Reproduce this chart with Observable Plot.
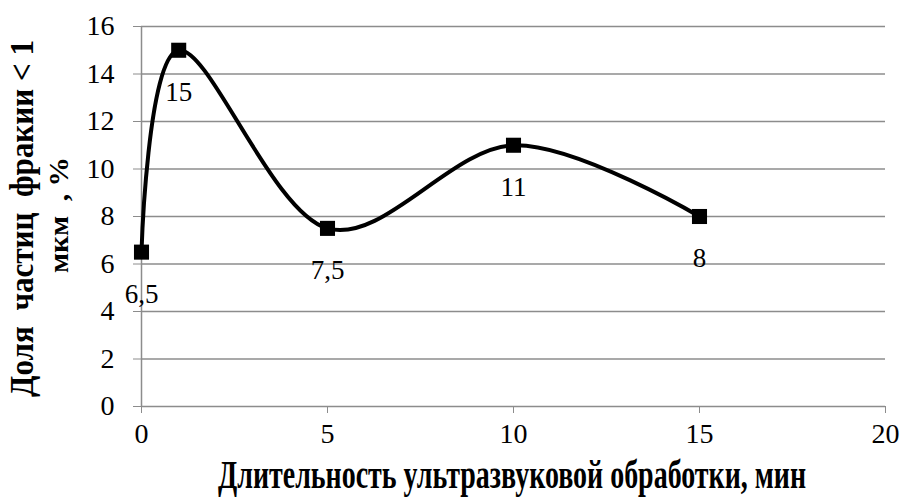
<!DOCTYPE html>
<html><head><meta charset="utf-8">
<script src="https://cdn.jsdelivr.net/npm/d3@7"></script>
<script src="https://cdn.jsdelivr.net/npm/@observablehq/plot@0.6"></script>
<style>
html,body{margin:0;padding:0;background:#fff;}
#chart{position:relative;z-index:1;}
#chart svg{background:#fff;}
#measure{position:absolute;left:200px;top:250px;z-index:0;color:#fff;font:14px monospace;margin:0;}
</style>
</head><body>
<pre id="measure" aria-hidden="true"></pre>
<div id="chart"></div>
<script>
const minutes = [0, 1, 5, 10, 15];
const shares = [6.5, 15, 7.5, 11, 8];
const pointLabels = ["6,5", "15", "7,5", "11", "8"];
const xTicks = [0, 5, 10, 15, 20];
const yTicks = [0, 2, 4, 6, 8, 10, 12, 14, 16];
const xTitle = "Длительность ультразвуковой обработки, мин";
const yTitleLine1 = "Доля  частиц  фракии < 1";
const yTitleLine2 = "мкм  , %";

const data = minutes.map((m, i) => ({x: m, y: shares[i], label: pointLabels[i]}));
const grid = "#8c8c8c";
const serif = "'Liberation Serif', 'Times New Roman', Tinos, serif";

const plot = Plot.plot({
  width: 902, height: 498,
  marginLeft: 141, marginRight: 17, marginTop: 26, marginBottom: 92,
  x: {domain: [0, 20], ticks: xTicks},
  y: {domain: [0, 16], ticks: yTicks},
  marks: [
    Plot.gridY(yTicks, {stroke: grid, strokeOpacity: 1, strokeWidth: 1.5}),
    Plot.ruleX([0], {stroke: grid, strokeWidth: 1.5}),
    Plot.axisY(yTicks, {tickSize: 8, tickPadding: 19, stroke: grid, label: null, fontSize: 28, fontFamily: serif}),
    Plot.axisX(xTicks, {tickSize: 7, tickPadding: 10, stroke: grid, label: null, fontSize: 28, fontFamily: serif}),
    Plot.line(data, {x: "x", y: "y", curve: "cardinal", tension: 0, stroke: "#000", strokeWidth: 4}),
    Plot.dot(data, {x: "x", y: "y", symbol: "square", r: 8.5, fill: "#000", stroke: "none"}),
    Plot.text(data, {x: "x", y: "y", text: "label", dy: 42, fontSize: 27, fontFamily: serif})
  ]
});
document.getElementById("chart").appendChild(plot);

const svg = d3.select(plot);
svg.append("text")
  .attr("x", 512).attr("y", 488)
  .attr("text-anchor", "middle")
  .attr("font-family", serif).attr("font-weight", "bold").attr("font-size", 39)
  .attr("textLength", 588).attr("lengthAdjust", "spacingAndGlyphs")
  .attr("fill", "#000").text(xTitle);
svg.append("text")
  .attr("transform", "translate(33,218.5) rotate(-90)")
  .attr("text-anchor", "middle")
  .attr("font-family", serif).attr("font-weight", "bold").attr("font-size", 33)
  .attr("textLength", 357).attr("lengthAdjust", "spacingAndGlyphs")
  .style("white-space", "pre")
  .attr("fill", "#000").text(yTitleLine1);
svg.append("text")
  .attr("transform", "translate(68,215) rotate(-90)")
  .attr("text-anchor", "middle")
  .attr("font-family", serif).attr("font-weight", "bold").attr("font-size", 28)
  .attr("textLength", 116).attr("lengthAdjust", "spacingAndGlyphs")
  .style("white-space", "pre")
  .attr("fill", "#000").text(yTitleLine2);

// force layout and font resolution of every text before the page is shown
const info = [];
plot.querySelectorAll("text").forEach((t) => {
  const b = t.getBBox();
  const cs = getComputedStyle(t);
  info.push(b.width.toFixed(1) + " " + cs.fontSize + " " + cs.fontFamily.slice(0, 18));
});
document.getElementById("measure").textContent = info.join("\n");
</script>
</body></html>
